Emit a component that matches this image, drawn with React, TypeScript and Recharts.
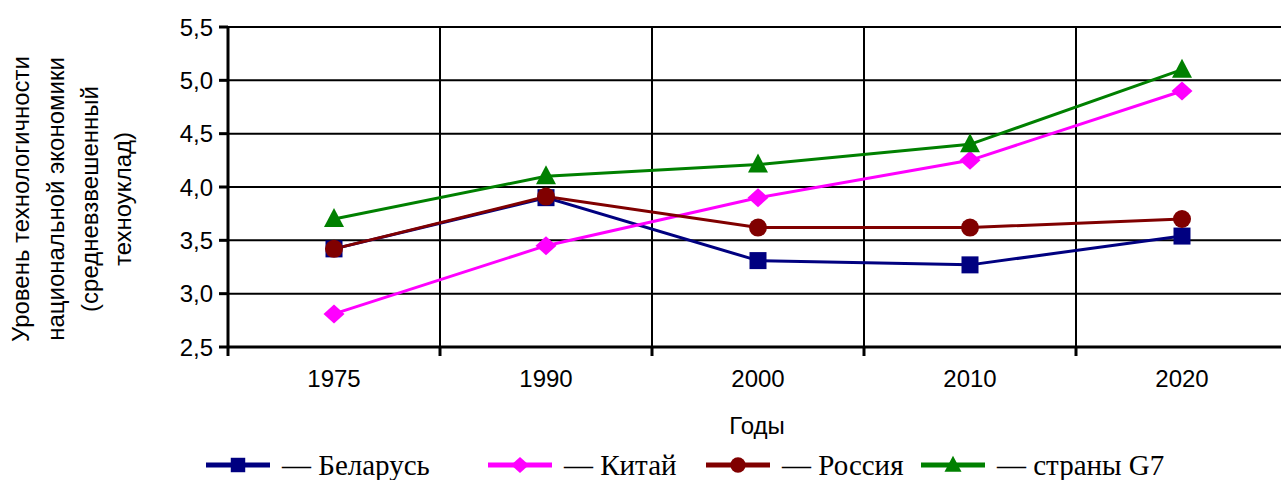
import { LineChart, Line, XAxis, YAxis, CartesianGrid, Legend, ReferenceLine } from 'recharts'

const YEARS = ['1975', '1990', '2000', '2010', '2020']
const BELARUS = [3.42, 3.9, 3.31, 3.27, 3.54]
const CHINA = [2.81, 3.45, 3.9, 4.25, 4.9]
const RUSSIA = [3.42, 3.91, 3.62, 3.62, 3.7]
const G7 = [3.7, 4.1, 4.21, 4.4, 5.1]

const Y_TICKS = [2.5, 3, 3.5, 4, 4.5, 5, 5.5]
const BAND_EDGES = [0, 1, 2, 3, 4, 5]
const BAND_CENTERS = [0.5, 1.5, 2.5, 3.5, 4.5]
const Y_TITLE = ['Уровень технологичности', 'национальной экономики', '(средневзвешенный', 'техноуклад)']
const X_TITLE = 'Годы'

type Shape = 'square' | 'diamond' | 'circle' | 'triangle'

const SERIES: { key: string; name: string; color: string; shape: Shape }[] = [
  { key: 'belarus', name: 'Беларусь', color: '#000080', shape: 'square' },
  { key: 'china', name: 'Китай', color: '#FF00FF', shape: 'diamond' },
  { key: 'russia', name: 'Россия', color: '#800000', shape: 'circle' },
  { key: 'g7', name: 'страны G7', color: '#008000', shape: 'triangle' },
]

const data = YEARS.map((year, i) => ({
  pos: BAND_CENTERS[i],
  year,
  belarus: BELARUS[i],
  china: CHINA[i],
  russia: RUSSIA[i],
  g7: G7[i],
}))

const SANS = '"Liberation Sans", Arial, sans-serif'
const SERIF = '"Liberation Serif", "Times New Roman", serif'

function Marker({ shape, cx, cy, color, scale = 1 }: { shape: Shape; cx: number; cy: number; color: string; scale?: number }) {
  if (shape === 'square') {
    const s = 17 * scale
    return <rect x={cx - s / 2} y={cy - s / 2} width={s} height={s} fill={color} />
  }
  if (shape === 'circle') {
    return <circle cx={cx} cy={cy} r={9 * scale} fill={color} />
  }
  if (shape === 'diamond') {
    const w = 10.5 * scale
    const h = 9.5 * scale
    return <polygon points={`${cx},${cy - h} ${cx + w},${cy} ${cx},${cy + h} ${cx - w},${cy}`} fill={color} />
  }
  const w = 10 * scale
  return <polygon points={`${cx},${cy - 11 * scale} ${cx + w},${cy + 8 * scale} ${cx - w},${cy + 8 * scale}`} fill={color} />
}

function YTitle() {
  const xs = [20, 55, 89, 122]
  const cy = 199
  return (
    <g>
      {Y_TITLE.map((line, i) => (
        <text
          key={line}
          x={xs[i]}
          y={cy}
          transform={`rotate(-90, ${xs[i]}, ${cy})`}
          textAnchor="middle"
          dominantBaseline="central"
          fontFamily={SANS}
          fontSize={24}
          fill="#000"
        >
          {line}
        </text>
      ))}
    </g>
  )
}

function XTitle() {
  return (
    <text x={757} y={425} textAnchor="middle" dominantBaseline="central" fontFamily={SANS} fontSize={24} fill="#000">
      {X_TITLE}
    </text>
  )
}

function LegendContent() {
  const lefts = [205, 487, 705, 920]
  return (
    <div style={{ position: 'relative', height: 40, width: 1281 }}>
      {SERIES.map((s, i) => (
        <div
          key={s.key}
          style={{ position: 'absolute', left: lefts[i], top: 5, height: 40, display: 'flex', alignItems: 'center' }}
        >
          <svg width={66} height={30}>
            <line x1={1} y1={15} x2={65} y2={15} stroke={s.color} strokeWidth={5} />
            <Marker shape={s.shape} cx={33} cy={15} color={s.color} scale={0.85} />
          </svg>
          <span style={{ marginLeft: 11, fontFamily: SERIF, fontSize: 29, color: '#000', whiteSpace: 'nowrap' }}>
            — {s.name}
          </span>
        </div>
      ))}
    </div>
  )
}

export default function App() {
  return (
    <div style={{ position: 'absolute', left: 0, top: 0, width: 1281, height: 480, overflow: 'hidden', background: '#fff' }}>
      <LineChart width={1288} height={480} data={data} margin={{ top: 27, right: 0, bottom: 0, left: 0 }}>
        <CartesianGrid xAxisId="grid" stroke="#000" strokeWidth={2} fill="none" vertical={false} />
        <XAxis
          xAxisId="grid"
          type="number"
          dataKey="pos"
          domain={[0, 5]}
          ticks={BAND_EDGES}
          tick={() => <g />}
          height={1}
          axisLine={{ stroke: '#000', strokeWidth: 3 }}
          tickLine={{ stroke: '#000', strokeWidth: 3 }}
          tickSize={9}
        />
        <XAxis
          xAxisId="lab"
          type="number"
          dataKey="pos"
          domain={[0, 5]}
          ticks={BAND_CENTERS}
          tickFormatter={(v: number) => YEARS[Math.floor(v)]}
          axisLine={false}
          tickLine={false}
          tickSize={8}
          tickMargin={14}
          height={92}
          tick={{ fill: '#000', fontSize: 24, fontFamily: SANS }}
          label={<XTitle />}
        />
        <YAxis
          type="number"
          domain={[2.5, 5.5]}
          ticks={Y_TICKS}
          width={228}
          axisLine={{ stroke: '#000', strokeWidth: 3 }}
          tickLine={{ stroke: '#000', strokeWidth: 3 }}
          tickSize={9}
          tickMargin={6}
          tickFormatter={(v: number) => v.toFixed(1).replace('.', ',')}
          tick={{ fill: '#000', fontSize: 24, fontFamily: SANS }}
          label={<YTitle />}
        />
        {BAND_EDGES.slice(1, -1).map((v) => (
          <ReferenceLine key={v} xAxisId="grid" x={v} stroke="#000" strokeWidth={2} />
        ))}
        <Legend verticalAlign="bottom" height={40} content={<LegendContent />} wrapperStyle={{ left: 0, width: 1281 }} />
        {SERIES.map((s) => (
          <Line
            key={s.key}
            xAxisId="lab"
            dataKey={s.key}
            name={s.name}
            stroke={s.color}
            strokeWidth={3}
            isAnimationActive={false}
            dot={(p: any) => <Marker key={`${s.key}-${p.index}`} shape={s.shape} cx={p.cx} cy={p.cy} color={s.color} />}
            activeDot={false}
          />
        ))}
      </LineChart>
    </div>
  )
}
